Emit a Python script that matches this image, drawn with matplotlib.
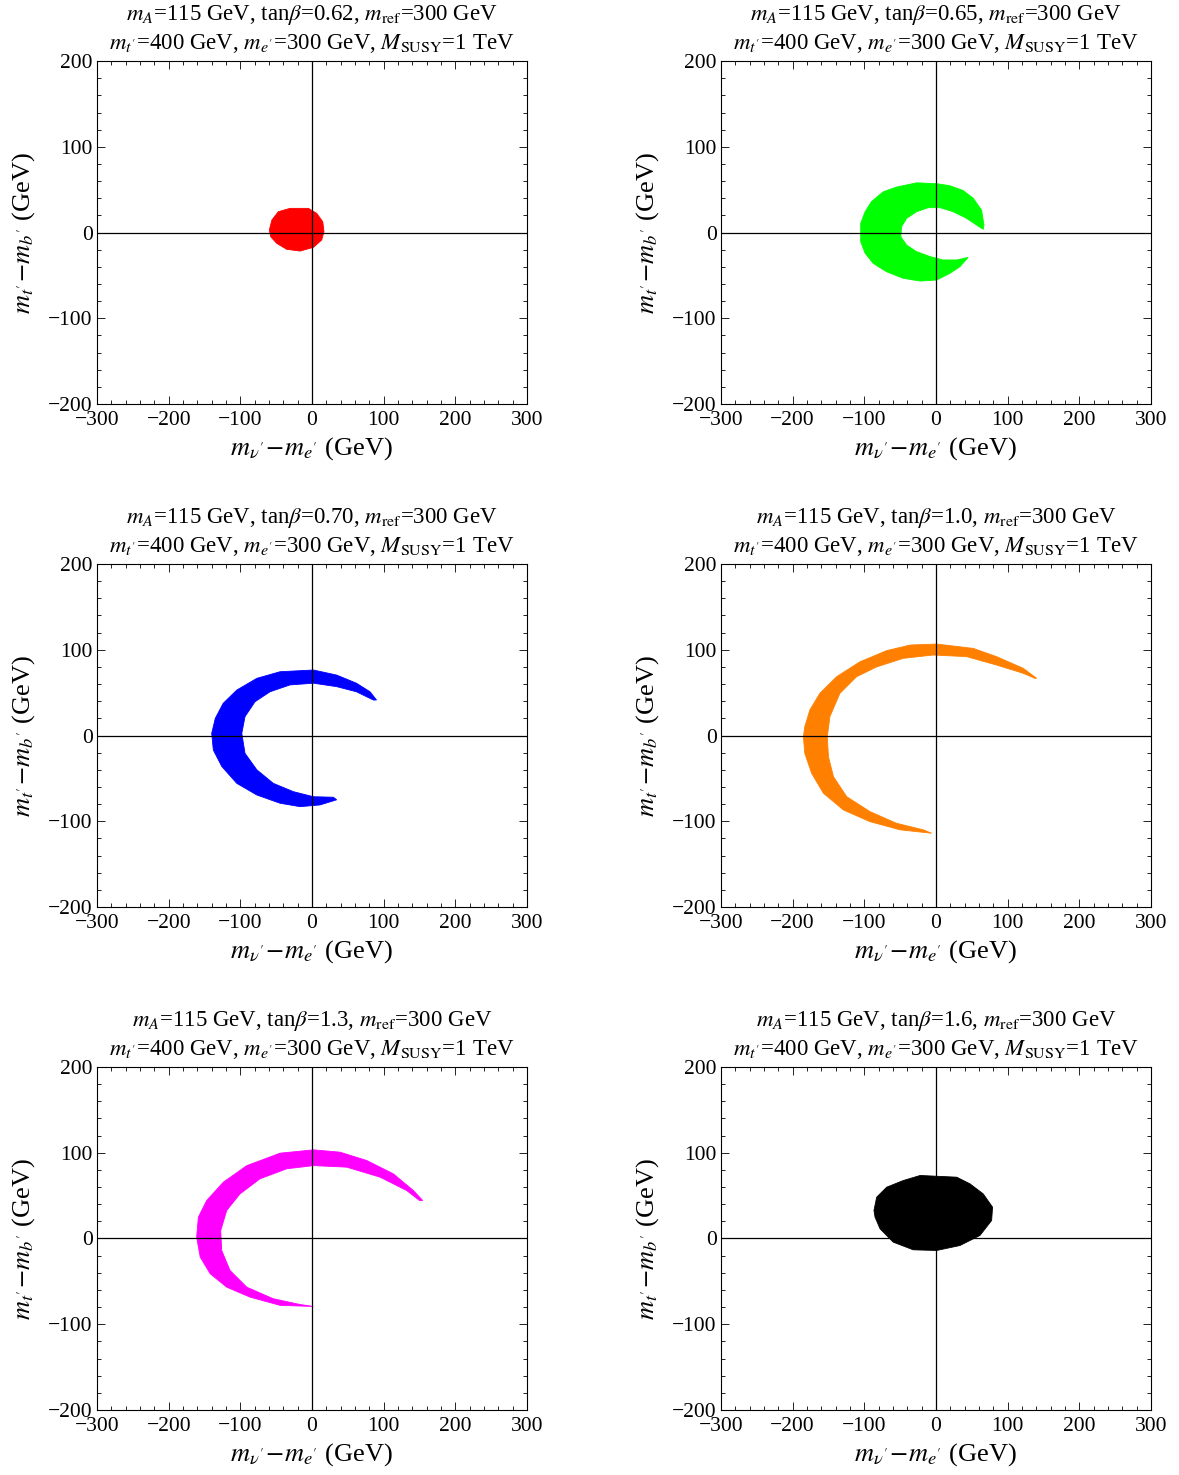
import matplotlib
matplotlib.use('Agg')
import matplotlib.pyplot as plt
from matplotlib.ticker import MultipleLocator

plt.rcParams['font.family'] = ['Liberation Serif', 'DejaVu Serif']
plt.rcParams['mathtext.fontset'] = 'stix'

tanb_labels = ['0.62', '0.65', '0.70', '1.0', '1.3', '1.6']
colors = ['#ff0000', '#00ff00', '#0000ff', '#ff8000', '#ff00ff', '#000000']

# allowed regions, outline points (GeV)
red_edge = [(-59.6, 2.9), (-56, 14.6), (-47, 24.3), (-30.7, 28.2), (-5, 28.2), (6.5, 22.4),
            (15, 12.6), (16.7, 1), (13.5, -8.7), (2, -17.3), (-16.7, -21.6), (-35.3, -19.6),
            (-49.3, -12.6), (-57.6, -4.9)]

green_outer = [(67, 8.7), (63.7, 26), (52, 40), (38, 49), (19.5, 54.6), (1, 57), (-27, 58),
               (-55, 53), (-73.5, 47.6), (-90, 36), (-99, 24), (-105, 10.7), (-105, -10.7),
               (-99, -24), (-87.5, -36), (-69, -45.7), (-45.6, -53.4), (-22, -56.6), (1, -55.4),
               (19.5, -47.6), (33.5, -39.8), (45, -29)]
green_inner = [(29, -32), (10, -32), (-8.4, -28), (-27, -22.3), (-41, -14.6), (-49, -4.9),
               (-48, 6.8), (-41, 16.5), (-27, 24.3), (-10.7, 29), (5.6, 29), (24, 24.3),
               (42.8, 16.5), (56.7, 8.7), (66, 3.7)]

blue_outer = [(90, 41.4), (81, 51), (62, 61), (34.4, 70.5), (2, 76.4), (-44.6, 74.4), (-77, 66.7),
              (-105, 53), (-124, 37.5), (-135, 20), (-140, 2.5), (-137.7, -17), (-126, -36),
              (-105, -55.8), (-77, -69.4), (-44.6, -79), (-16.7, -83), (11, -81), (34.4, -75)]
blue_inner = [(29.8, -72), (2, -71.4), (-26, -65.5), (-54, -55.8), (-77, -40), (-93.5, -20.8),
              (-98, 2.5), (-93.5, 22), (-79.5, 39.4), (-58.6, 51), (-30.7, 59), (2, 61),
              (34.4, 57), (62, 51), (85.6, 41.4)]

orange_outer = [(140.5, 66.7), (122, 78.3), (84.6, 92), (52, 101.6), (1, 106.7), (-36, 105.5),
                (-68.8, 99), (-106, 86), (-138.6, 68.6), (-162, 49.2), (-176, 29.7), (-183, 10.3),
                (-185, -1.4), (-183, -20.8), (-173.5, -44), (-157, -67.4), (-129, -86.9),
                (-92, -100.5), (-50, -110), (-6, -114)]
orange_inner = [(-17.7, -110), (-55, -102.4), (-92, -88.8), (-124.6, -71.3), (-143, -48),
                (-150, -24.7), (-151.6, -1.4), (-148, 22), (-134, 49.2), (-110.7, 68.6),
                (-82.8, 80), (-45.6, 90), (-3.7, 93.9), (42.8, 92), (84.6, 82.2), (122, 72.5),
                (138, 66.7)]

magenta_outer = [(154.4, 44.3), (141.4, 56), (113.5, 75.4), (76.3, 91), (39, 100.7), (2, 103.4),
                 (-44.6, 99.5), (-91, 85), (-123.7, 65.7), (-147, 44.3), (-158.6, 24.9),
                 (-161, 1.6), (-156, -21.8), (-142, -41.2), (-119, -56.8), (-86.5, -68.4),
                 (-44.6, -78), (2, -79.3)]
magenta_inner = [(-16.7, -77), (-54, -70.3), (-91, -56.8), (-114.4, -37.3), (-126, -14),
                 (-127.4, 9.3), (-119, 32.7), (-100.5, 52), (-72.6, 69.6), (-35.3, 81.3),
                 (2, 85), (48.4, 83.2), (95, 71.5), (132, 56), (150, 44.3)]

black_edge = [(-86.5, 32.7), (-82.7, 48.2), (-68.8, 59.8), (-45.6, 67.6), (-22, 73.5), (29, 71.5),
              (47.4, 63.8), (66, 52), (79, 36.5), (77.7, 21), (61.4, 3.5), (33.5, -8.2), (1, -14),
              (-31.7, -13.2), (-59.6, -4.3), (-78, 11.3), (-85, 24.9)]

regions = [red_edge, green_outer + green_inner, blue_outer + blue_inner,
           orange_outer + orange_inner, magenta_outer + magenta_inner, black_edge]

fig = plt.figure(figsize=(11.79, 14.75), dpi=100)
lefts = [0.0823, 0.6115]
bottoms = [0.7261, 0.3851, 0.0441]
w, h = 0.3647, 0.2325

for i in range(6):
    ax = fig.add_axes([lefts[i % 2], bottoms[i // 2], w, h])
    xs = [p[0] for p in regions[i]]
    ys = [p[1] for p in regions[i]]
    ax.fill(xs, ys, color=colors[i], lw=0.6, ec=colors[i], zorder=2)
    ax.axhline(0, color='black', lw=0.9, zorder=3)
    ax.axvline(0, color='black', lw=0.9, zorder=3)
    ax.set_xlim(-300, 300)
    ax.set_ylim(-200, 200)
    ax.xaxis.set_major_locator(MultipleLocator(100))
    ax.xaxis.set_minor_locator(MultipleLocator(20))
    ax.yaxis.set_major_locator(MultipleLocator(100))
    ax.yaxis.set_minor_locator(MultipleLocator(20))
    ax.tick_params(which='both', direction='in', top=True, right=True, labelsize=15.5, width=0.6)
    ax.tick_params(which='major', length=5.5, pad=3)
    ax.tick_params(which='minor', length=2.8)
    ax.tick_params(axis='x', which='major', pad=5)
    for s in ax.spines.values():
        s.set_linewidth(0.8)
    ax.set_xlabel(r"$m_{\nu'}\!-\!m_{e'}$ (GeV)", fontsize=19, labelpad=4)
    ax.set_ylabel(r"$m_{t'}\!-\!m_{b'}$ (GeV)", fontsize=19, labelpad=8)
    ax.set_title(r"$m_A$=115 GeV, tan$\beta$=" + tanb_labels[i] + r", $m_{\rm ref}$=300 GeV" + "\n"
                 + r"$m_{t'}$=400 GeV, $m_{e'}$=300 GeV, $M_{\rm SUSY}$=1 TeV",
                 fontsize=16.5, pad=9, linespacing=1.25)

fig.savefig('out.png', dpi=100)
